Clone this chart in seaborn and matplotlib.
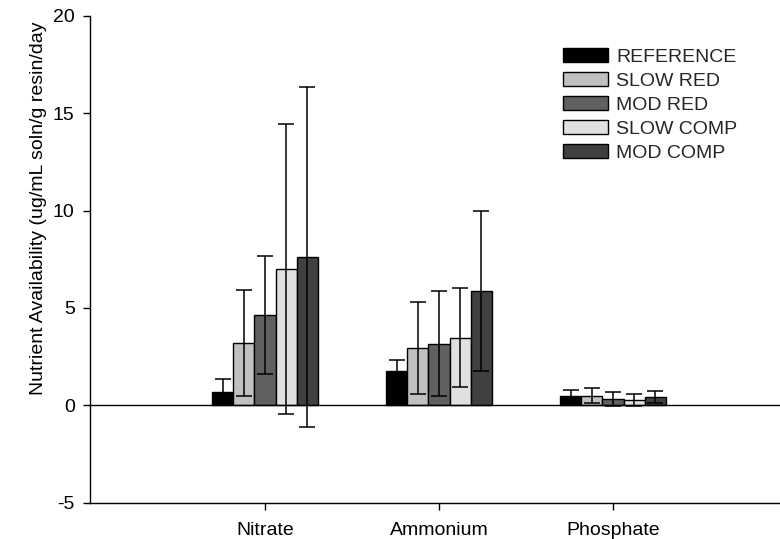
import matplotlib
matplotlib.use("Agg")
import matplotlib.pyplot as plt
import seaborn as sns
import pandas as pd
import numpy as np

categories = ["Nitrate", "Ammonium", "Phosphate"]
treatments = ["REFERENCE", "SLOW RED", "MOD RED", "SLOW COMP", "MOD COMP"]
colors = ["#000000", "#c0c0c0", "#606060", "#e0e0e0", "#404040"]

reference = [0.68, 1.76, 0.45]
slow_red = [3.20, 2.95, 0.48]
mod_red = [4.63, 3.17, 0.33]
slow_comp = [6.99, 3.46, 0.27]
mod_comp = [7.63, 5.88, 0.43]

reference_err = [0.67, 0.55, 0.31]
slow_red_err = [2.73, 2.35, 0.38]
mod_red_err = [3.04, 2.69, 0.35]
slow_comp_err = [7.46, 2.55, 0.33]
mod_comp_err = [8.73, 4.12, 0.31]

means = [reference, slow_red, mod_red, slow_comp, mod_comp]
errs = [reference_err, slow_red_err, mod_red_err, slow_comp_err, mod_comp_err]

rows = []
for t, vals in zip(treatments, means):
    for c, v in zip(categories, vals):
        rows.append({"nutrient": c, "treatment": t, "value": v})
df = pd.DataFrame(rows)

sns.set_style("white")
plt.rcParams["font.family"] = ["Liberation Sans", "DejaVu Sans"]

fig = plt.figure(figsize=(7.8, 5.39), dpi=100)
ax = fig.add_axes([90 / 780, 1 - 502.5 / 539, 690 / 780, (502.5 - 16) / 539])

sns.barplot(data=df, x="nutrient", y="value", hue="treatment",
            order=categories, hue_order=treatments, palette=colors,
            width=0.607, gap=0, edgecolor="black", linewidth=1,
            errorbar=None, ax=ax, saturation=1)

for cont, e in zip(ax.containers, errs):
    xs = [b.get_x() + b.get_width() / 2 for b in cont]
    ys = [b.get_height() for b in cont]
    ax.errorbar(xs, ys, yerr=e, fmt="none", ecolor="black",
                elinewidth=1.1, capsize=5.6, capthick=1.1, zorder=5)

ax.axhline(0, color="black", lw=1, zorder=4)

ax.set_ylim(-5, 20)
ax.set_xlim(-1.006, 2.96)
ax.set_yticks([-5, 0, 5, 10, 15, 20])
ax.set_yticklabels(["-5", "0", "5", "10", "15", "20"])

for s in ["top", "right"]:
    ax.spines[s].set_visible(False)
for s in ["left", "bottom"]:
    ax.spines[s].set_color("black")
    ax.spines[s].set_linewidth(1)

ax.tick_params(axis="both", which="major", direction="out", length=5,
               width=1, color="black", labelsize=14, labelcolor="black")
ax.tick_params(axis="y", left=True, pad=6)
ax.tick_params(axis="x", bottom=True, pad=9)

ax.set_xlabel("")
ax.set_ylabel("Nutrient Availability (ug/mL soln/g resin/day", fontsize=14,
              color="black")
ax.yaxis.set_label_coords((47 - 90) / 690, (502.5 - 208) / 486.5)

handles, labels = ax.get_legend_handles_labels()
ax.legend(handles, labels, loc="upper left",
          bbox_to_anchor=(563 / 780, 1 - 48 / 539), bbox_transform=fig.transFigure,
          frameon=False, fontsize=14, handlelength=2.3, handleheight=0.7,
          handletextpad=0.45, labelspacing=0.33, borderpad=0, borderaxespad=0)

fig.savefig("out.png", dpi=100)
